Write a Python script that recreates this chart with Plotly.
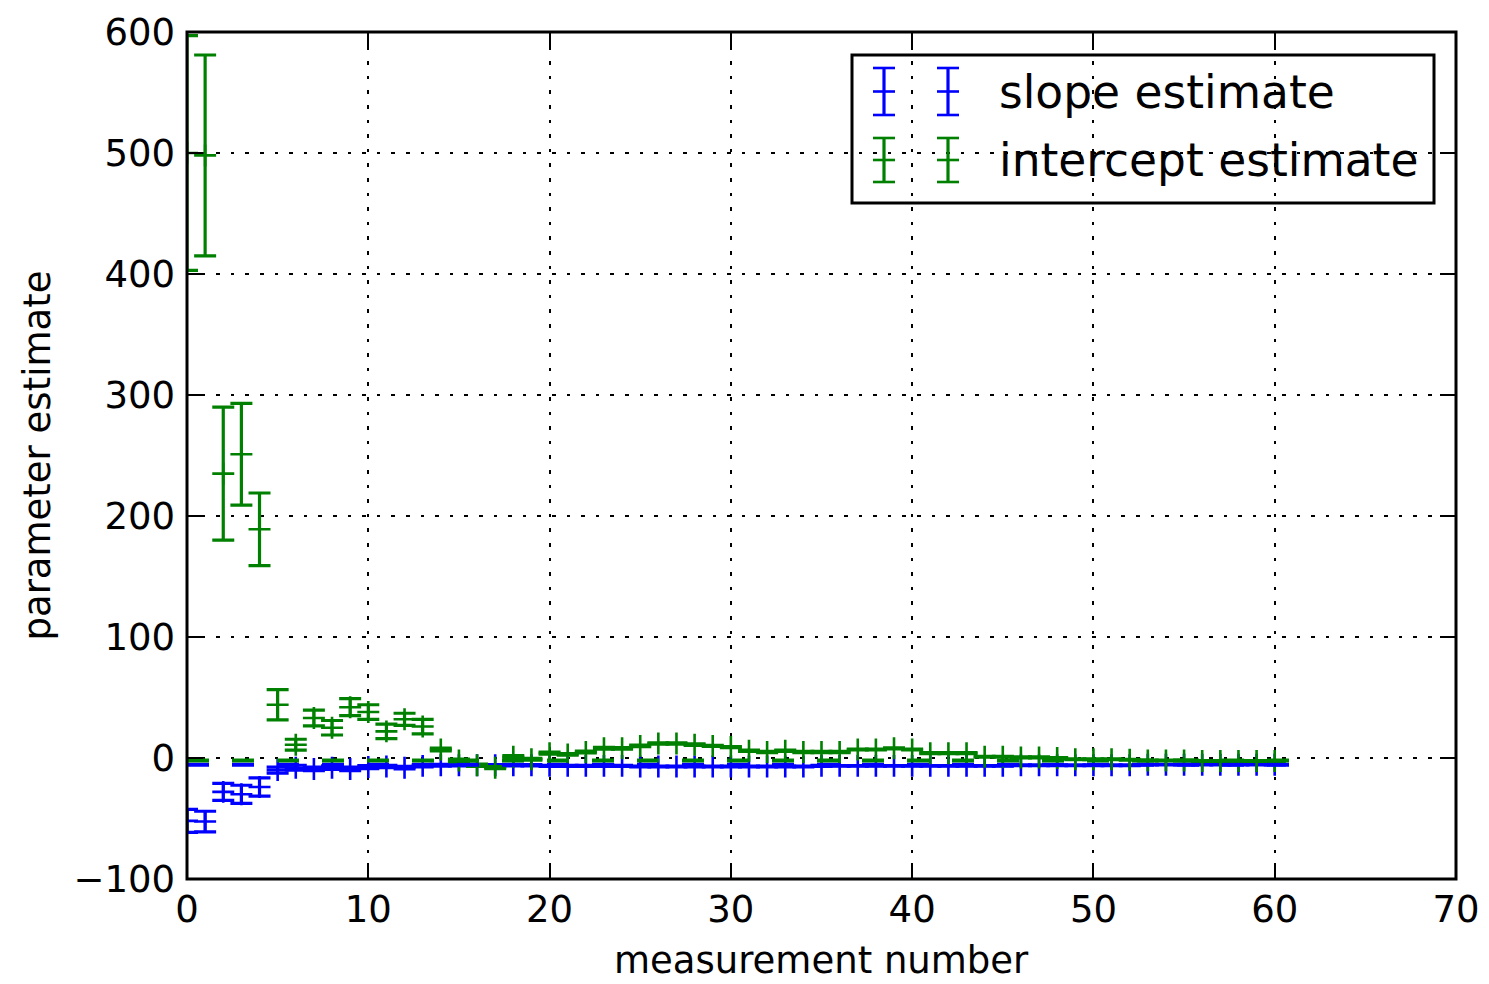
import plotly.graph_objects as go

# ---------------- data ----------------
measurement = list(range(61))

slope_est = [-52, -52.5, -28, -30, -24, -10, -8, -9, -8, -9,
             -7.5, -7, -8, -6.5, -6, -6, -6, -6, -6, -6,
             -6.5, -6.5, -6.5, -6.5, -6.5, -7, -7, -7, -7, -7,
             -7, -7, -7, -7, -7, -6.5, -6.5, -6.5, -6.5, -6.5,
             -6.5, -6.5, -6.5, -6.5, -6.5, -6.5, -6, -6, -6, -6,
             -6, -6, -6, -5.5, -5.5, -5.5, -5.5, -5.5, -5.5, -5.5,
             -5.5]
slope_err = [9.5, 8.5, 7, 7.5, 7.5, 2.5, 2, 1.5, 1.5, 1.5,
             1.2, 1.0, 1.0, 0.8, 0.7, 0.6, 0.6, 0.5, 0.5, 0.5,
             0.5, 0.5, 0.5, 0.4, 0.4, 0.4, 0.4, 0.4, 0.4, 0.4,
             0.4, 0.4, 0.4, 0.4, 0.4, 0.4, 0.3, 0.3, 0.3, 0.3,
             0.3, 0.3, 0.3, 0.3, 0.3, 0.3, 0.3, 0.3, 0.3, 0.3,
             0.3, 0.3, 0.3, 0.3, 0.3, 0.3, 0.3, 0.3, 0.3, 0.3,
             0.3]

intercept_est = [500, 498, 235, 251, 189, 44, 11, 33, 25, 42,
                 38, 22, 32, 26, 7, -2, -6, -8, 1, -1,
                 4, 3, 5, 8, 8, 10, 12, 12, 11, 10,
                 9, 6, 5, 6, 5, 5, 5, 7, 7, 8,
                 7, 4, 4, 4, 1, 1, 0.5, 0.5, 0, -1,
                 -1, -1, -1.5, -2, -2, -2, -2.5, -2.5, -2.5, -2.5,
                 -2.5]
intercept_err = [97, 83, 55, 42, 30, 12.5, 4.5, 6.5, 6, 7,
                 6, 6, 5, 6, 1.2, 1.0, 1.0, 0.9, 0.9, 0.8,
                 0.8, 0.7, 0.7, 0.7, 0.6, 0.6, 0.6, 0.6, 0.6, 0.5,
                 0.5, 0.5, 0.5, 0.5, 0.5, 0.5, 0.5, 0.4, 0.4, 0.4,
                 0.4, 0.4, 0.4, 0.4, 0.4, 0.4, 0.4, 0.4, 0.4, 0.3,
                 0.3, 0.3, 0.3, 0.3, 0.3, 0.3, 0.3, 0.3, 0.3, 0.3,
                 0.3]

true_x = [0, 61]
true_slope = [-5.5, -5.5]
true_intercept = [-2, -2]

x_ticks = [0, 10, 20, 30, 40, 50, 60, 70]
y_ticks = [-100, 0, 100, 200, 300, 400, 500, 600]
y_tick_text = ["\u2212100", "0", "100", "200", "300", "400", "500", "600"]

BLUE = "#0000ff"
GREEN = "#008000"
FONT = "DejaVu Sans"

# ---------------- figure ----------------
fig = go.Figure()


def est_trace(y, err, color, name):
    return go.Scatter(
        x=measurement, y=y, mode="markers", name=name,
        marker=dict(symbol="cross-thin", size=15.7, color=color,
                    line=dict(color=color, width=2.6)),
        error_y=dict(type="data", array=err, visible=True, color=color,
                     thickness=3.2, width=11),
        showlegend=False, cliponaxis=True,
    )


fig.add_trace(est_trace(slope_est, slope_err, BLUE, "slope estimate"))
fig.add_trace(est_trace(intercept_est, intercept_err, GREEN, "intercept estimate"))
fig.add_trace(go.Scatter(x=true_x, y=true_slope, mode="lines",
                         line=dict(color=BLUE, width=4, dash="22px,23px"),
                         showlegend=False))
fig.add_trace(go.Scatter(x=true_x, y=true_intercept, mode="lines",
                         line=dict(color=GREEN, width=4, dash="22px,23px"),
                         showlegend=False))

# plot area in pixels
L, R, T, B = 187, 1456, 32, 879
W, H = 1489, 984


def px(xp):
    return (xp - L) / (R - L)


def py(yp):
    return (B - yp) / (B - T)


shapes = []
# axes frame (centred on the plot-area edges, like matplotlib spines)
shapes.append(dict(type="rect", xref="paper", yref="paper",
                   x0=0, x1=1, y0=0, y1=1,
                   line=dict(color="black", width=3), layer="above"))
# legend frame (transparent, grid shows through)
shapes.append(dict(type="rect", xref="paper", yref="paper",
                   x0=px(852), x1=px(1434), y0=py(203), y1=py(55),
                   line=dict(color="black", width=3),
                   fillcolor="rgba(0,0,0,0)", layer="above"))
# legend glyphs (errorbar + marker)
for color, ytop, ybot in [(BLUE, 68, 115), (GREEN, 138, 182)]:
    ymid = (ytop + ybot) / 2
    for gx in (884, 948):
        shapes.append(dict(type="line", xref="paper", yref="paper",
                           x0=px(gx), x1=px(gx), y0=py(ytop), y1=py(ybot),
                           line=dict(color=color, width=3.2), layer="above"))
        for yy in (ytop, ybot, ymid):
            shapes.append(dict(type="line", xref="paper", yref="paper",
                               x0=px(gx - 11), x1=px(gx + 11), y0=py(yy), y1=py(yy),
                               line=dict(color=color, width=2.6), layer="above"))

annotations = [
    dict(text="slope estimate", xref="paper", yref="paper", x=px(997), y=py(92),
         xanchor="left", yanchor="middle", showarrow=False,
         font=dict(family=FONT, size=45.5, color="black")),
    dict(text="intercept estimate", xref="paper", yref="paper", x=px(997), y=py(160),
         xanchor="left", yanchor="middle", showarrow=False,
         font=dict(family=FONT, size=45.5, color="black")),
    # axis titles
    dict(text="measurement number", xref="paper", yref="paper",
         x=0.5, y=py(960), xanchor="center", yanchor="middle", showarrow=False,
         borderpad=0, font=dict(family=FONT, size=37, color="black")),
    dict(text="parameter estimate", xref="paper", yref="paper",
         x=px(37), y=0.5, xanchor="center", yanchor="middle", showarrow=False,
         borderpad=0, textangle=-90, font=dict(family=FONT, size=37, color="black")),
]

axis_common = dict(
    showline=False, mirror="allticks",
    ticks="inside", ticklen=16, tickwidth=1.5, tickcolor="black",
    showgrid=True, gridcolor="black", gridwidth=1.6, griddash="3.6px,11px",
    zeroline=False, tickfont=dict(family=FONT, size=37, color="black"),
    automargin=False, layer="above traces",
)

fig.update_xaxes(range=[0, 70], tickmode="array", tickvals=x_ticks,
                 ticklabelstandoff=5, **axis_common)
fig.update_yaxes(range=[-100, 600], tickmode="array", tickvals=y_ticks,
                 ticktext=y_tick_text,
                 ticklabelstandoff=11, **axis_common)

fig.update_layout(
    width=W, height=H,
    margin=dict(l=L, r=W - R, t=T, b=H - B, pad=0, autoexpand=False),
    paper_bgcolor="white", plot_bgcolor="white",
    shapes=shapes, annotations=annotations,
    font=dict(family=FONT, color="black"),
)

fig.write_html("out.html")
